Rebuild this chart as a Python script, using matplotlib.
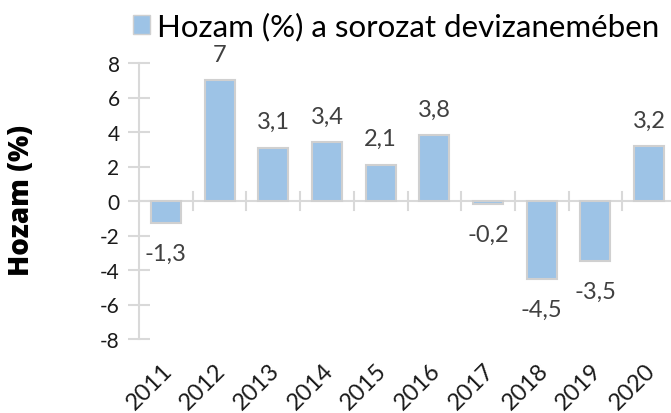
import matplotlib
matplotlib.use("Agg")
import matplotlib.pyplot as plt
from matplotlib.patches import Patch

years = ["2011", "2012", "2013", "2014", "2015", "2016", "2017", "2018", "2019", "2020"]
values = [-1.3, 7, 3.1, 3.4, 2.1, 3.8, -0.2, -4.5, -3.5, 3.2]
value_labels = ["-1,3", "7", "3,1", "3,4", "2,1", "3,8", "-0,2", "-4,5", "-3,5", "3,2"]
yticks = [-8, -6, -4, -2, 0, 2, 4, 6, 8]
series_name = "Hozam (%) a sorozat devizanemében"
ylabel = "Hozam (%)"

plt.rcParams['font.family'] = ['Lato', 'DejaVu Sans']

fig = plt.figure(figsize=(6.71, 4.14), dpi=100)
ax = fig.add_axes([139/671, 1-340/414, 537/671, 276/414])

bar_color = "#9DC3E6"
edge_color = "#D0D0D0"
grid_color = "#D9D9D9"

x = list(range(len(years)))
ax.bar(x, values, width=0.56, color=bar_color, edgecolor=edge_color, linewidth=1.5, zorder=3)

ax.set_xlim(-0.5, len(years) - 0.5)
ax.set_ylim(-8, 8)
ax.set_yticks(yticks)
ax.set_yticklabels([str(t) for t in yticks], fontsize=15, color="#1a1a1a")

for s in ["top", "right", "bottom"]:
    ax.spines[s].set_visible(False)
ax.spines["left"].set_color(grid_color)
ax.spines["left"].set_linewidth(1.5)

ax.tick_params(axis="y", direction="inout", length=16, width=1.5, color=grid_color, pad=6)

# zero line with crossing category separators
ax.axhline(0, color=grid_color, linewidth=1.5, zorder=2)
ax.set_xticks([])
for i in range(1, len(years)):
    ax.plot([i - 0.5, i - 0.5], [-0.5, 0.5], color=grid_color, linewidth=1.5, zorder=2, clip_on=False)

# x labels rotated
for i, yr in enumerate(years):
    ax.annotate(yr, xy=(i, -8), xytext=(2, -20), textcoords="offset points",
                rotation=45, ha="right", va="center", rotation_mode="anchor",
                fontsize=17, color="#1a1a1a", annotation_clip=False)

# value labels
for i, (v, lab) in enumerate(zip(values, value_labels)):
    if v >= 0:
        ax.annotate(lab, xy=(i, v), xytext=(0, 14), textcoords="offset points",
                    ha="center", va="baseline", fontsize=17, color="#404040")
    else:
        ax.annotate(lab, xy=(i, v), xytext=(0, -26.5), textcoords="offset points",
                    ha="center", va="baseline", fontsize=17, color="#404040")

fig.text(22/671, 1-200/414, ylabel, rotation=90, ha="center", va="center",
         fontsize=20, fontweight="heavy", color="#000000", family=["Open Sans", "DejaVu Sans"])

handle = Patch(facecolor=bar_color, edgecolor=edge_color, linewidth=1.0)
leg = fig.legend([handle], [series_name], loc="center", bbox_to_anchor=(396/671, 1-27/414),
                 frameon=False, fontsize=22.5, handlelength=0.55, handleheight=0.55,
                 handletextpad=0.2, borderpad=0)

fig.savefig("out.png", dpi=100)
